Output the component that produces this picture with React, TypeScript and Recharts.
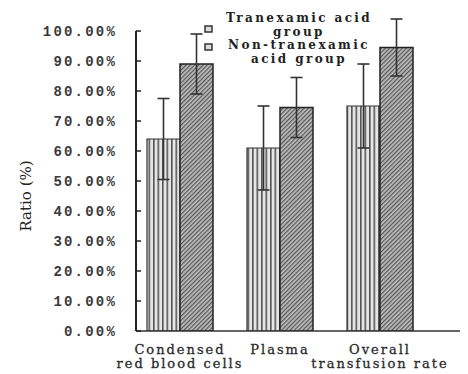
import { BarChart, Bar, XAxis, YAxis, ErrorBar, Legend } from "recharts";

const categories = ["Condensed red blood cells", "Plasma", "Overall transfusion rate"];
const categoryLines = [
  ["Condensed", "red blood cells"],
  ["Plasma"],
  ["Overall", "transfusion rate"],
];
const txaValues = [64, 61, 75];
const txaErrors = [13.5, 14, 14];
const nonTxaValues = [89, 74.5, 94.5];
const nonTxaErrors = [10, 10, 9.5];
const yTicks = [0, 10, 20, 30, 40, 50, 60, 70, 80, 90, 100];
const legendNames = [
  ["Tranexamic acid", "group"],
  ["Non-tranexamic", "acid group"],
];

const data = categories.map((name, i) => ({
  name,
  txa: txaValues[i],
  txaErr: txaErrors[i],
  non: nonTxaValues[i],
  nonErr: nonTxaErrors[i],
}));

const serif = "'DejaVu Serif', 'Liberation Serif', serif";

const XTick = (props: any) => {
  const { x, y, index } = props;
  const lines = categoryLines[index] || [];
  return (
    <text
      x={x}
      y={y}
      textAnchor="middle"
      fontFamily={serif}
      fontSize={13}
      fill="#2a2a2a"
      stroke="#2a2a2a"
      strokeWidth={0.3}
      letterSpacing={2}
    >
      {lines.map((l, i) => (
        <tspan key={i} x={x} dy={i === 0 ? 15 : 13.5}>
          {l}
        </tspan>
      ))}
    </text>
  );
};

const LegendBox = () => {
  const boxTops = [25, 43];
  const textTops = [12, 39];
  return (
    <div style={{ position: "relative", width: 468, height: 70, fontFamily: serif, fontWeight: "bold", fontSize: 12, color: "#222", lineHeight: "13.5px" }}>
      {legendNames.map((lines, i) => (
        <div key={i}>
          <svg width={10} height={9} style={{ position: "absolute", left: 204, top: boxTops[i] }}>
            <rect x={1} y={1} width={7} height={6} fill="#ddd" stroke="#333" strokeWidth={1.5} />
          </svg>
          <div style={{ position: "absolute", left: 216, top: textTops[i], width: 166, textAlign: "center", letterSpacing: 2.4 }}>
            {lines.map((l, j) => (
              <div key={j}>{l}</div>
            ))}
          </div>
        </div>
      ))}
    </div>
  );
};

export default function App() {
  return (
    <div style={{ position: "absolute", left: 0, top: 0, width: 468, height: 374, background: "#fff" }}>
      <BarChart
        width={468}
        height={374}
        data={data}
        margin={{ top: 31, right: 8, left: 0, bottom: 0 }}
        barGap={0}
        barSize={33}
      >
        <defs>
          <pattern id="vstripe" width="4.5" height="4" patternUnits="userSpaceOnUse">
            <rect width="4.5" height="4" fill="#e6e6e6" />
            <rect x="0" width="1.6" height="4" fill="#555" />
          </pattern>
          <pattern id="hatch" width="3" height="3" patternUnits="userSpaceOnUse" patternTransform="rotate(45)">
            <rect width="3" height="3" fill="#bdbdbd" />
            <rect width="1.2" height="3" fill="#555" />
          </pattern>
        </defs>
        <XAxis
          dataKey="name"
          height={43}
          padding={{ left: -6, right: 30 }}
          tickLine={false}
          interval={0}
          tick={<XTick />}
          axisLine={{ stroke: "#333", strokeWidth: 1.5 }}
        />
        <YAxis
          width={136}
          domain={[0, 100]}
          allowDataOverflow
          ticks={yTicks}
          interval={0}
          tickSize={-5}
          tickMargin={24}
          tickFormatter={(v: number) => `${v}.00%`}
          tick={{ fontFamily: "'Liberation Mono', monospace", fontWeight: "bold", fontSize: 14, fill: "#3a3a3a", letterSpacing: 2.2 }}
          axisLine={{ stroke: "#222", strokeWidth: 2 }}
          tickLine={{ stroke: "#222", strokeWidth: 1.5 }}
          label={{
            content: () => (
              <text
                x={31}
                y={196}
                transform="rotate(-90 31 196)"
                textAnchor="middle"
                fontFamily={serif}
                fontSize={15}
                fill="#222"
              >
                Ratio (%)
              </text>
            ),
          }}
        />
        <Legend
          layout="vertical"
          align="center"
          verticalAlign="middle"
          content={<LegendBox />}
          wrapperStyle={{ top: 0, left: 0, width: 468, height: 70 }}
        />
        <Bar dataKey="txa" fill="url(#vstripe)" stroke="#333" strokeWidth={1.2} isAnimationActive={false}>
          <ErrorBar dataKey="txaErr" width={6} stroke="#333" strokeWidth={1.6} />
        </Bar>
        <Bar dataKey="non" fill="url(#hatch)" stroke="#222" strokeWidth={1.5} isAnimationActive={false}>
          <ErrorBar dataKey="nonErr" width={6} stroke="#333" strokeWidth={1.6} />
        </Bar>
      </BarChart>
    </div>
  );
}
